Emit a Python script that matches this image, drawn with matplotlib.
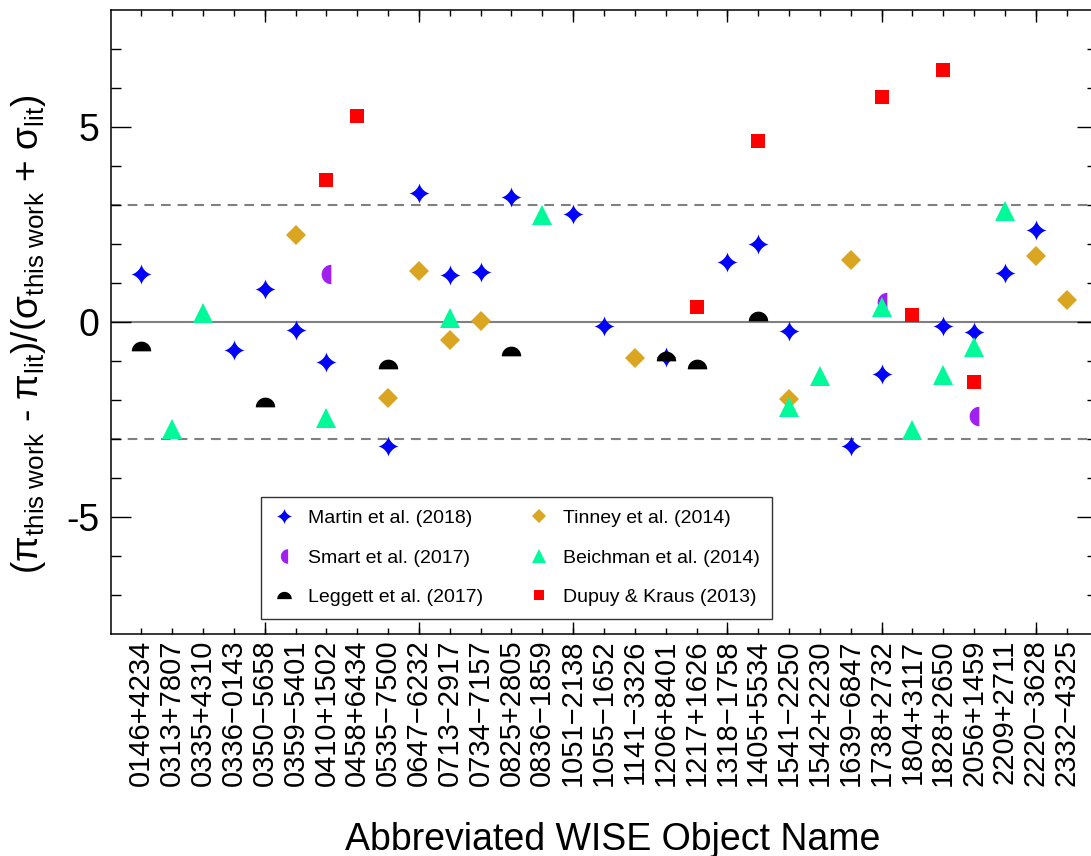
import matplotlib
matplotlib.use("Agg")
import matplotlib.pyplot as plt
import numpy as np

plt.rcParams['font.family'] = ['Liberation Sans', 'DejaVu Sans']
plt.rcParams['mathtext.fontset'] = 'custom'
plt.rcParams['mathtext.rm'] = 'Liberation Sans'
plt.rcParams['mathtext.it'] = 'Liberation Sans'
plt.rcParams['mathtext.default'] = 'regular'
plt.rcParams['lines.scale_dashes'] = False

# abbreviated WISE names, in plotting order along x
names = ['0146+4234', '0313+7807', '0335+4310', '0336\u22120143', '0350\u22125658',
         '0359\u22125401', '0410+1502', '0458+6434', '0535\u22127500', '0647\u22126232',
         '0713\u22122917', '0734\u22127157', '0825+2805', '0836\u22121859', '1051\u22122138',
         '1055\u22121652', '1141\u22123326', '1206+8401', '1217+1626', '1318\u22121758',
         '1405+5534', '1541\u22122250', '1542+2230', '1639\u22126847', '1738+2732',
         '1804+3117', '1828+2650', '2056+1459', '2209+2711', '2220\u22123628',
         '2332\u22124325']

martin_obj = ['0146+4234', '0336\u22120143', '0350\u22125658', '0359\u22125401', '0410+1502',
              '0535\u22127500', '0647\u22126232', '0713\u22122917', '0734\u22127157', '0825+2805',
              '1051\u22122138', '1055\u22121652', '1206+8401', '1318\u22121758', '1405+5534',
              '1541\u22122250', '1639\u22126847', '1738+2732', '1828+2650', '2056+1459',
              '2209+2711', '2220\u22123628']
martin_val = [1.22, -0.73, 0.84, -0.20, -1.03, -3.17, 3.31, 1.20, 1.29, 3.21,
              2.77, -0.09, -0.89, 1.53, 1.99, -0.23, -3.17, -1.34, -0.10, -0.25,
              1.26, 2.37]

smart_obj = ['0410+1502', '1738+2732', '2056+1459']
smart_val = [1.23, 0.52, -2.41]

leggett_obj = ['0146+4234', '0350\u22125658', '0535\u22127500', '0825+2805', '1206+8401',
               '1217+1626', '1405+5534']
leggett_val = [-0.61, -2.06, -1.08, -0.74, -0.88, -1.08, 0.15]

tinney_obj = ['0359\u22125401', '0535\u22127500', '0647\u22126232', '0713\u22122917',
              '0734\u22127157', '1141\u22123326', '1541\u22122250', '1639\u22126847',
              '2220\u22123628', '2332\u22124325']
tinney_val = [2.22, -1.95, 1.31, -0.46, 0.03, -0.93, -1.97, 1.60, 1.69, 0.56]

beichman_obj = ['0313+7807', '0335+4310', '0410+1502', '0713\u22122917', '0836\u22121859',
                '1541\u22122250', '1542+2230', '1738+2732', '1804+3117', '1828+2650',
                '2056+1459', '2209+2711']
beichman_val = [-2.74, 0.23, -2.47, 0.10, 2.75, -2.17, -1.39, 0.38, -2.76, -1.37,
                -0.63, 2.85]

dupuy_obj = ['0410+1502', '0458+6434', '1217+1626', '1405+5534', '1738+2732',
             '1804+3117', '1828+2650', '2056+1459']
dupuy_val = [3.63, 5.27, 0.39, 4.64, 5.78, 0.18, 6.46, -1.53]

# marker shapes
t = np.linspace(0, 2 * np.pi, 161)
star = np.column_stack([np.sign(np.cos(t)) * np.abs(np.cos(t)) ** 3,
                        np.sign(np.sin(t)) * np.abs(np.sin(t)) ** 3])
a = np.linspace(np.pi / 2, 3 * np.pi / 2, 60)
left_half = np.column_stack([0.5 + np.cos(a), np.sin(a)])
b = np.linspace(0, np.pi, 60)
top_half = np.column_stack([np.cos(b), -0.5 + np.sin(b)])

fig = plt.figure(figsize=(10.91, 8.56), dpi=100)
ax = fig.add_axes([0.1013, 0.2593, 0.9046, 0.729])

ax.axhline(0, color='#808080', lw=1.5, zorder=1)
for yv in (-3, 3):
    ax.axhline(yv, color='#808080', lw=1.5, dashes=(7, 5), zorder=1)

def xpos(objs):
    return [names.index(n) + 1 for n in objs]

ax.plot(xpos(martin_obj), martin_val, ls='none', marker=star, ms=15, mew=0,
        color='#0000ff', label='Martin et al. (2018)')
ax.plot(xpos(smart_obj), smart_val, ls='none', marker=left_half, ms=14, mew=0,
        color='#a020f0', label='Smart et al. (2017)')
ax.plot(xpos(leggett_obj), leggett_val, ls='none', marker=top_half, ms=14, mew=0,
        color='black', label='Leggett et al. (2017)')
ax.plot(xpos(tinney_obj), tinney_val, ls='none', marker='D', ms=9.7, mew=0,
        color='#daa520', label='Tinney et al. (2014)')
ax.plot(xpos(beichman_obj), beichman_val, ls='none', marker='^', ms=13.7, mew=0,
        color='#00fa9a', label='Beichman et al. (2014)')
ax.plot(xpos(dupuy_obj), dupuy_val, ls='none', marker='s', ms=10, mew=0,
        color='#ff0000', label='Dupuy & Kraus (2013)')

ax.set_xlim(0, 32)
ax.set_ylim(-8, 8)

ax.set_xticks(range(1, len(names) + 1), labels=names, rotation=90, fontsize=21)
ax.set_xticks(range(5, 32, 5), minor=True)
ax.xaxis.remove_overlapping_locs = False
ax.tick_params(axis='x', which='major', direction='in', length=4.3, width=1,
               top=True, bottom=True, pad=4)
ax.tick_params(axis='x', which='minor', direction='in', length=8.6, width=1,
               top=True, bottom=True)
ax.set_yticks([-5, 0, 5], labels=['-5', '0', '5'], fontsize=27)
ax.set_yticks(range(-7, 8), minor=True)
ax.tick_params(axis='y', which='major', direction='in', length=14.4, width=1,
               left=True, right=True, pad=8)
ax.tick_params(axis='y', which='minor', direction='in', length=7.2, width=1,
               left=True, right=True)
for s in ax.spines.values():
    s.set_linewidth(1.1)

ax.set_xlabel('Abbreviated WISE Object Name', fontsize=27)
ax.xaxis.set_label_coords(0.509, -0.301)
ax.set_ylabel(r'($\pi_{this\ work}$ - $\pi_{lit}$)/($\sigma_{this\ work}$ + $\sigma_{lit}$)',
              fontsize=26.7)
ax.yaxis.set_label_coords(-0.063, 0.48)

leg = ax.legend(loc='upper left', bbox_to_anchor=(0.1526, 0.2196), ncol=2, fontsize=14,
                markerscale=0.75, fancybox=False, edgecolor='#333333', framealpha=1,
                borderaxespad=0, borderpad=0.65, handlelength=1.03, handletextpad=0.72,
                columnspacing=2.35, labelspacing=1.12)
leg.get_frame().set_linewidth(1.0)

fig.savefig('out.png', dpi=100)
